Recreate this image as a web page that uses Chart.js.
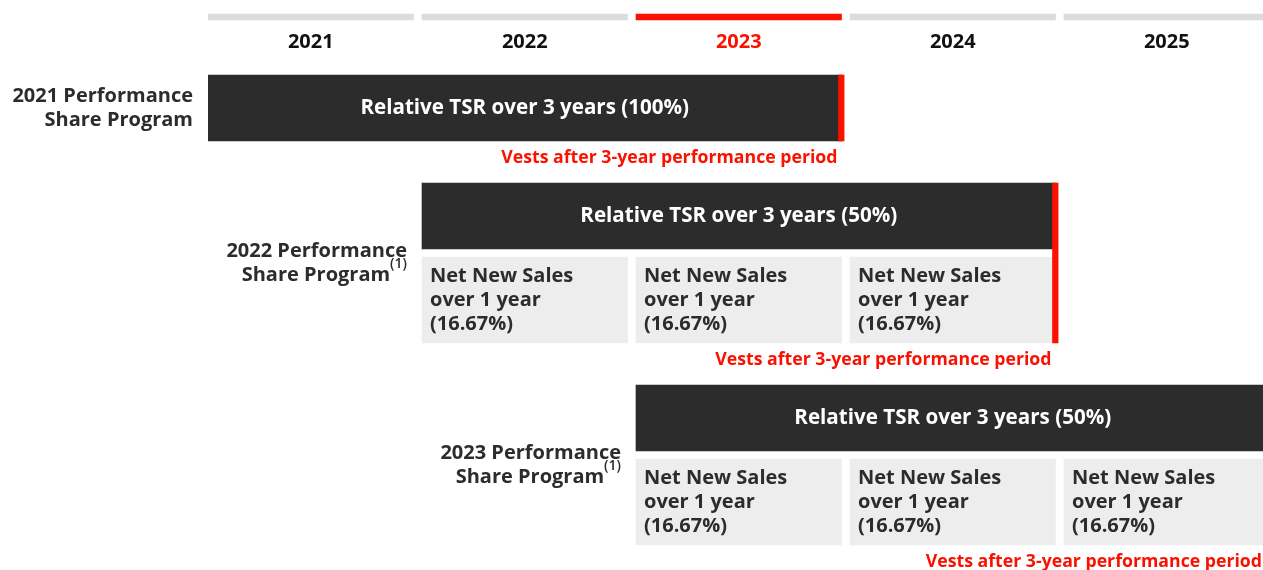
<!DOCTYPE html>
<html>
<head>
<meta charset="utf-8">
<script src="https://cdn.jsdelivr.net/npm/chart.js@4.4.1/dist/chart.umd.min.js"></script>
<style>
  html, body { margin: 0; padding: 0; background: #fff; overflow: hidden; }
  #wrap { position: relative; width: 1278px; height: 570px; }
</style>
</head>
<body>
<div id="wrap"><canvas id="psp-chart"></canvas></div>
<script>
// timeline columns
const years = [2021, 2022, 2023, 2024, 2025];
const currentYear = 2023;

// one entry per performance share program
const programNames = [
  ["2021 Performance", "Share Program"],
  ["2022 Performance", "Share Program"],
  ["2023 Performance", "Share Program"],
];
const programFootnote = [false, true, true];
const programStart = [2021, 2022, 2023];
const tsrPeriodYears = [3, 3, 3];
const tsrLabels = [
  "Relative TSR over 3 years (100%)",
  "Relative TSR over 3 years (50%)",
  "Relative TSR over 3 years (50%)",
];
const nnsYears = [[], [2022, 2023, 2024], [2023, 2024, 2025]];
const nnsLabel = ["Net New Sales", "over 1 year", "(16.67%)"];
const vestLabel = "Vests after 3-year performance period";

// look
const RED = "#fa1200";
const DARK = "#2c2c2c";
const CELL = "#ededed";
const HEAD = "#dcdcdc";
const FONT = '"Open Sans", "Noto Sans", sans-serif';

// layout (y axis runs in pixels, top to bottom)
const PX = 1 / 214;          // one pixel, in years
const GAP = 8.5 * PX;        // white gap between year columns
const HEAD_Y = 17, HEAD_H = 6;
const FIRST_TOP = 75, TSR_H = 66, ROW_GAP = 8, NNS_H = 86, PROGRAM_GAP = 42;

// stack the program blocks
const blocks = [];
let cursorY = FIRST_TOP;
programStart.forEach((s, i) => {
  const hasNns = nnsYears[i].length > 0;
  const bottom = cursorY + TSR_H + (hasNns ? ROW_GAP + NNS_H : 0);
  blocks.push({
    top: cursorY,
    bottom,
    tsrY: cursorY + TSR_H / 2,
    nnsY: cursorY + TSR_H + ROW_GAP + NNS_H / 2,
  });
  cursorY = bottom + PROGRAM_GAP;
});

const datasets = [];

datasets.push({
  id: "head",
  data: years.map(y => ({ x: [y, y + 1 - GAP], y: HEAD_Y })),
  backgroundColor: years.map(y => (y === currentYear ? RED : HEAD)),
  barThickness: HEAD_H,
});

programStart.forEach((s, i) => {
  const end = s + tsrPeriodYears[i] - GAP;
  const b = blocks[i];
  datasets.push({
    id: "tsr", program: i,
    data: [{ x: [s, end], y: b.tsrY }],
    backgroundColor: DARK,
    barThickness: TSR_H,
  });
  if (nnsYears[i].length) {
    datasets.push({
      id: "nns", program: i,
      data: nnsYears[i].map(y => ({ x: [y, y + 1 - GAP], y: b.nnsY })),
      backgroundColor: CELL,
      barThickness: NNS_H,
    });
  }
  // red vesting marker straddles the end of the performance period
  datasets.push({
    id: "vest", program: i, end,
    data: [{ x: [end - 3 * PX, end + 2.6 * PX], y: (b.top + b.bottom) / 2 }],
    backgroundColor: RED,
    barThickness: b.bottom - b.top,
    order: -1,
  });
});

datasets.forEach(d => {
  d.grouped = false;
  d.borderWidth = 0;
  d.borderSkipped = false;
});

const textPlugin = {
  id: "textPlugin",
  afterDraw(chart) {
    const ctx = chart.ctx;
    const sets = chart.data.datasets;
    const xScale = chart.scales.x;
    const yScale = chart.scales.y;
    ctx.save();
    ctx.textBaseline = "middle";

    sets.forEach((d, di) => {
      const els = chart.getDatasetMeta(di).data;

      if (d.id === "head") {
        ctx.font = `700 20px ${FONT}`;
        ctx.textAlign = "center";
        els.forEach((el, j) => {
          ctx.fillStyle = years[j] === currentYear ? RED : "#111";
          ctx.fillText(String(years[j]), (el.x + el.base) / 2, el.y + 25.5);
        });
      }

      if (d.id === "tsr") {
        const el = els[0];
        ctx.font = `700 20.6px ${FONT}`;
        ctx.textAlign = "center";
        ctx.fillStyle = "#fff";
        ctx.fillText(tsrLabels[d.program], (el.x + el.base) / 2, el.y);
      }

      if (d.id === "nns") {
        ctx.font = `700 20px ${FONT}`;
        ctx.textAlign = "left";
        ctx.fillStyle = DARK;
        els.forEach(el => {
          nnsLabel.forEach((line, k) => {
            ctx.fillText(line, el.base + 8, el.y + (k - 1) * 24);
          });
        });
      }

      if (d.id === "vest") {
        const i = d.program;
        const b = blocks[i];
        const bottom = yScale.getPixelForValue(b.bottom);
        const mid = els[0].y;

        ctx.font = `700 17.7px ${FONT}`;
        ctx.textAlign = "right";
        ctx.fillStyle = RED;
        const right = Math.min(xScale.getPixelForValue(d.end) - 4, window.innerWidth - 1);
        ctx.fillText(vestLabel, right, bottom + 17);

        // program label, right aligned against the first bar
        const labelRight = xScale.getPixelForValue(programStart[i]) - 15;
        ctx.fillStyle = DARK;
        ctx.font = `700 20px ${FONT}`;
        ctx.fillText(programNames[i][0], labelRight, mid - 12);
        let supW = 0;
        if (programFootnote[i]) {
          ctx.font = `600 14px ${FONT}`;
          supW = ctx.measureText("(1)").width;
          ctx.fillText("(1)", labelRight, mid + 1);
          ctx.font = `700 20px ${FONT}`;
        }
        ctx.fillText(programNames[i][1], labelRight - supW, mid + 12);
      }
    });
    ctx.restore();
  },
};

new Chart(document.getElementById("psp-chart"), {
  type: "bar",
  data: { datasets },
  options: {
    indexAxis: "y",
    responsive: true,
    maintainAspectRatio: false,
    animation: false,
    layout: { padding: { left: 208, right: 0, top: 0, bottom: 0 } },
    scales: {
      x: { type: "linear", min: 2021, max: 2026, display: false },
      y: { type: "linear", min: 0, max: 570, reverse: true, offset: false, display: false },
    },
    plugins: {
      legend: { display: false },
      tooltip: { enabled: false },
    },
  },
  plugins: [textPlugin],
});
</script>
</body>
</html>
